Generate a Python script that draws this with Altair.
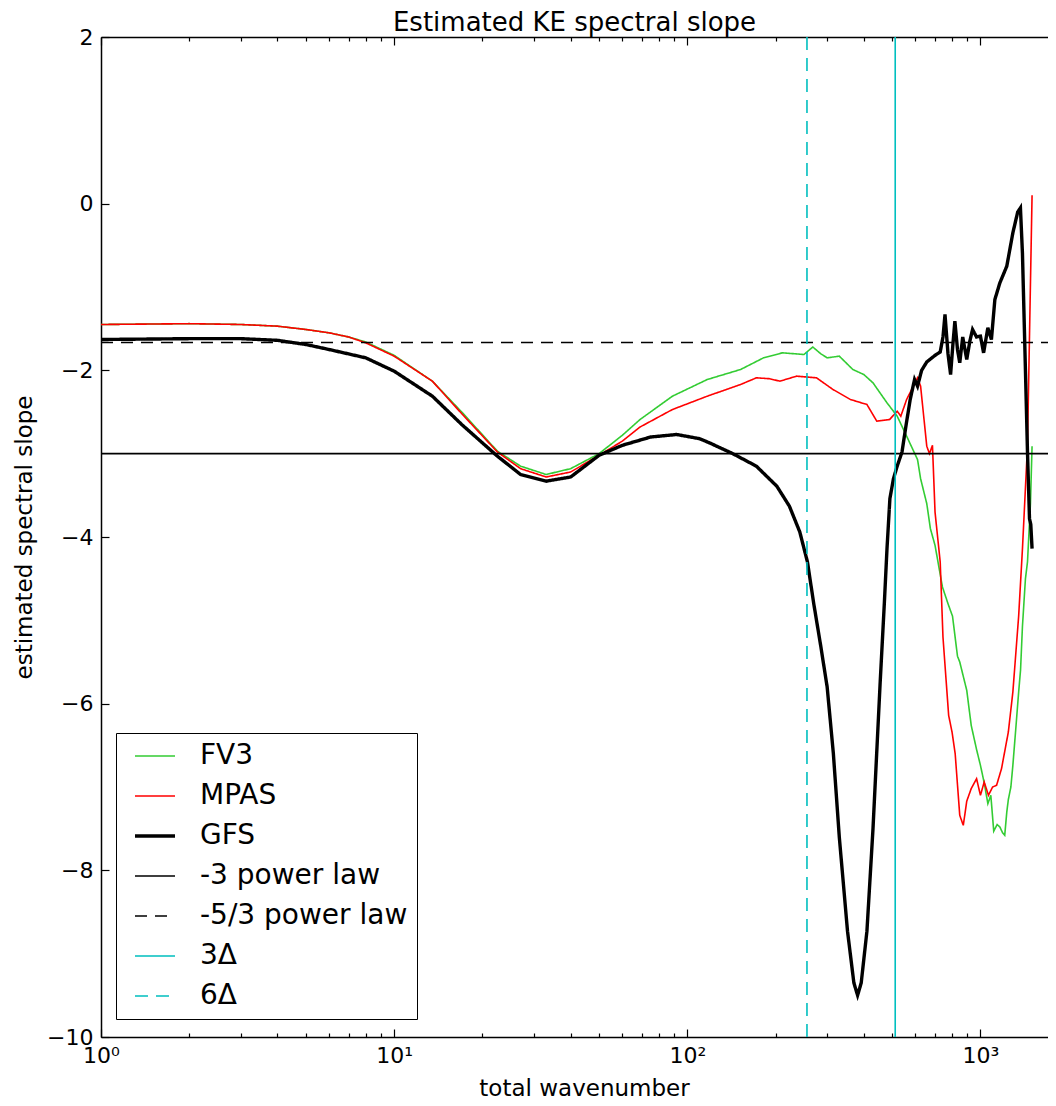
import altair as alt
import pandas as pd

# ---------------- data ----------------
SERIES = ["FV3", "MPAS", "GFS", "-3 power law", "-5/3 power law", "3\u0394", "6\u0394"]
COLORS = ["#33CC33", "#FF0000", "#000000", "#000000", "#000000", "#00BFBF", "#00BFBF"]
DASHES = [[1, 0], [1, 0], [1, 0], [1, 0], [12, 8], [1, 0], [13, 8]]
THIN = 1.6
THICK = 3.4

FV3_K = [1, 2, 3, 4, 5, 6, 7, 8, 10, 13.5, 17, 22.5, 27, 33, 40, 50, 60, 69, 89, 117,
         152, 182, 211, 250, 268, 285, 300, 330, 367, 400, 430, 480, 520, 560, 610, 625,
         656, 675, 700, 742, 775, 803, 835, 850, 898, 930, 970, 1000, 1030, 1060, 1085,
         1110, 1140, 1165, 1190, 1210, 1230, 1245, 1270, 1290, 1320, 1350, 1370, 1391,
         1424, 1447, 1481, 1500]
FV3_V = [-1.45, -1.44, -1.45, -1.47, -1.51, -1.55, -1.60, -1.66, -1.82, -2.13, -2.50,
         -2.97, -3.15, -3.25, -3.18, -3.00, -2.78, -2.59, -2.31, -2.11, -1.99, -1.85,
         -1.79, -1.81, -1.72, -1.80, -1.85, -1.83, -1.99, -2.05, -2.15, -2.39, -2.55,
         -2.79, -3.07, -3.30, -3.60, -3.90, -4.10, -4.60, -4.80, -4.95, -5.43, -5.50,
         -5.84, -6.26, -6.55, -6.74, -6.95, -7.20, -7.10, -7.53, -7.45, -7.48, -7.55,
         -7.58, -7.30, -7.15, -7.00, -6.74, -6.30, -5.86, -5.60, -5.07, -4.50, -4.30,
         -3.60, -2.91]

MPAS_K = [1, 2, 3, 4, 5, 6, 7, 8, 10, 13.5, 17, 22.5, 27, 33, 40, 50, 60, 69, 89, 117,
          152, 172, 190, 207, 236, 276, 314, 360, 410, 443, 490, 520, 535, 560, 610, 625,
          656, 670, 686, 700, 729, 745, 779, 800, 820, 850, 874, 898, 930, 970, 1000,
          1030, 1065, 1100, 1135, 1180, 1245, 1290, 1350, 1391, 1447, 1500]
MPAS_V = [-1.45, -1.44, -1.45, -1.47, -1.51, -1.55, -1.60, -1.67, -1.83, -2.13, -2.52,
          -2.98, -3.18, -3.28, -3.22, -3.02, -2.85, -2.68, -2.47, -2.31, -2.17, -2.09,
          -2.10, -2.13, -2.07, -2.09, -2.23, -2.35, -2.41, -2.61, -2.59, -2.49, -2.55,
          -2.35, -2.09, -2.19, -2.91, -3.00, -2.90, -3.70, -4.30, -5.20, -6.14, -6.34,
          -6.60, -7.34, -7.46, -7.17, -7.02, -6.90, -7.10, -6.94, -7.10, -7.00, -6.98,
          -6.78, -6.34, -5.86, -4.95, -4.14, -2.91, 0.10]

GFS_K = [1, 2, 3, 4, 5, 6, 8, 10, 13.5, 17, 22.5, 27, 33, 40, 50, 60, 75, 92, 110, 119,
         143, 172, 202, 223, 242, 257, 270, 285, 300, 315, 330, 352, 370, 381, 392, 410,
         430, 455, 470, 480, 491, 505, 520, 540, 558, 576, 596, 610, 630, 656, 700, 729,
         745, 757, 775, 791, 805, 818, 835, 850, 870, 898, 920, 940, 970, 1000, 1025,
         1060, 1090, 1120, 1165, 1230, 1290, 1340, 1369, 1391, 1424, 1447, 1470, 1485,
         1500]
GFS_V = [-1.63, -1.62, -1.62, -1.64, -1.69, -1.75, -1.85, -2.01, -2.31, -2.65, -3.03,
         -3.25, -3.33, -3.28, -3.02, -2.90, -2.80, -2.77, -2.82, -2.87, -3.00, -3.15,
         -3.39, -3.63, -3.94, -4.30, -4.80, -5.30, -5.80, -6.60, -7.60, -8.73, -9.35,
         -9.50, -9.35, -8.73, -7.50, -5.74, -4.80, -4.14, -3.54, -3.30, -3.15, -2.98,
         -2.65, -2.35, -2.11, -2.19, -2.00, -1.90, -1.82, -1.78, -1.60, -1.33, -1.80,
         -2.05, -1.70, -1.41, -1.75, -1.91, -1.60, -1.87, -1.65, -1.51, -1.60, -1.59,
         -1.79, -1.49, -1.63, -1.15, -0.95, -0.75, -0.35, -0.10, -0.05, -0.60, -2.00,
         -2.98, -3.78, -3.85, -4.14]

X_DOMAIN = [1, 1700]
Y_DOMAIN = [-10, 2]
SLOPE_3 = -3.0
SLOPE_53 = -5.0 / 3.0
K_3DELTA = 512
K_6DELTA = 256

X_MAJOR = [1, 10, 100, 1000]
X_MINOR = [2, 3, 4, 5, 6, 7, 8, 9, 20, 30, 40, 50, 60, 70, 80, 90,
           200, 300, 400, 500, 600, 700, 800, 900]
Y_MAJOR = [-10, -8, -6, -4, -2, 0, 2]


def frame(name, ks, vs):
    return pd.DataFrame({"k": ks, "v": vs, "series": name})


df_fv3 = frame("FV3", FV3_K, FV3_V)
df_mpas = frame("MPAS", MPAS_K, MPAS_V)
df_gfs = frame("GFS", GFS_K, GFS_V)
df_m3 = frame("-3 power law", X_DOMAIN, [SLOPE_3, SLOPE_3])
df_m53 = frame("-5/3 power law", X_DOMAIN, [SLOPE_53, SLOPE_53])
df_3d = frame("3\u0394", [K_3DELTA, K_3DELTA], Y_DOMAIN)
df_6d = frame("6\u0394", [K_6DELTA, K_6DELTA], Y_DOMAIN)

FONT = "DejaVu Sans"
xscale = alt.Scale(type="log", domain=X_DOMAIN, nice=False)
yscale = alt.Scale(domain=Y_DOMAIN, nice=False, zero=False)

legend = alt.Legend(
    title=None, orient="none", legendX=15, legendY=696,
    symbolType="stroke", symbolSize=1600, symbolOffset=16,
    symbolStrokeWidth={"expr": "datum.value === 'GFS' ? %s : %s" % (THICK, THIN)},
    labelFontSize=28, labelFont=FONT,
    labelColor="black", labelOffset=31, padding=9, rowPadding=12,
    strokeColor="black", fillColor="white", labelLimit=500,
)

LABEL_EXPR = ("datum.value == 1 ? '10\u2070' : datum.value == 10 ? '10\u00b9' : "
              "datum.value == 100 ? '10\u00b2' : '10\u00b3'")


def tick_axis(orient, values, size):
    return alt.Axis(orient=orient, values=values, labels=False, domain=False,
                    ticks=True, tickSize=size, offset=-size, tickColor="black",
                    tickWidth=1.2, grid=False, title=None)


ax_x_labels = alt.Axis(orient="bottom", values=X_MAJOR, labelExpr=LABEL_EXPR, ticks=False,
                       domain=True, domainColor="black", domainWidth=1.5, labelFontSize=22,
                       labelFont=FONT, labelColor="black", labelPadding=8, labelFlush=False,
                       labelOverlap=False, grid=False, title="total wavenumber",
                       titleFont=FONT, titleFontSize=23, titleFontWeight="normal",
                       titleColor="black", titlePadding=11, titleX=483)
ax_y_labels = alt.Axis(orient="left", values=Y_MAJOR, ticks=False, domain=True,
                       domainColor="black", domainWidth=1.5, labelFontSize=22, labelFont=FONT,
                       labelColor="black", labelPadding=8, labelFlush=False,
                       labelOverlap=False, grid=False, title="estimated spectral slope",
                       titleFont=FONT, titleFontSize=23, titleFontWeight="normal",
                       titleColor="black", titlePadding=10)
ax_top_domain = alt.Axis(orient="top", labels=False, ticks=False, domain=True,
                         domainColor="black", domainWidth=1.5, grid=False, title=None)


def layer(df, width, xaxis, yaxis):
    return alt.Chart(df).mark_line(clip=True, strokeWidth=width).encode(
        x=alt.X("k:Q", scale=xscale, axis=xaxis),
        y=alt.Y("v:Q", scale=yscale, axis=yaxis),
        color=alt.Color("series:N", scale=alt.Scale(domain=SERIES, range=COLORS), legend=legend),
        strokeDash=alt.StrokeDash("series:N", scale=alt.Scale(domain=SERIES, range=DASHES), legend=legend),
    )


chart = alt.layer(
    layer(df_fv3, THIN, ax_x_labels, ax_y_labels),
    layer(df_mpas, THIN, tick_axis("bottom", X_MAJOR, 8), tick_axis("left", Y_MAJOR, 8)),
    layer(df_gfs, THICK, tick_axis("bottom", X_MINOR, 4), None),
    layer(df_m3, THIN, ax_top_domain, None),
    layer(df_m53, THIN, tick_axis("top", X_MAJOR, 8), None),
    layer(df_3d, THIN, tick_axis("top", X_MINOR, 4), None),
    layer(df_6d, THIN, None, None),
).resolve_axis(x="independent", y="independent").properties(
    width=947, height=1000,
    autosize=alt.AutoSizeParams(type="none"),
    padding={"left": 93, "top": 29, "right": 0, "bottom": 63},
    title=alt.TitleParams("Estimated KE spectral slope", font=FONT, fontSize=26,
                          fontWeight="normal", color="black", offset=-10),
).configure_view(stroke=None).configure(font=FONT)

chart.save("out.html", embed_options={"renderer": "svg", "actions": False})
